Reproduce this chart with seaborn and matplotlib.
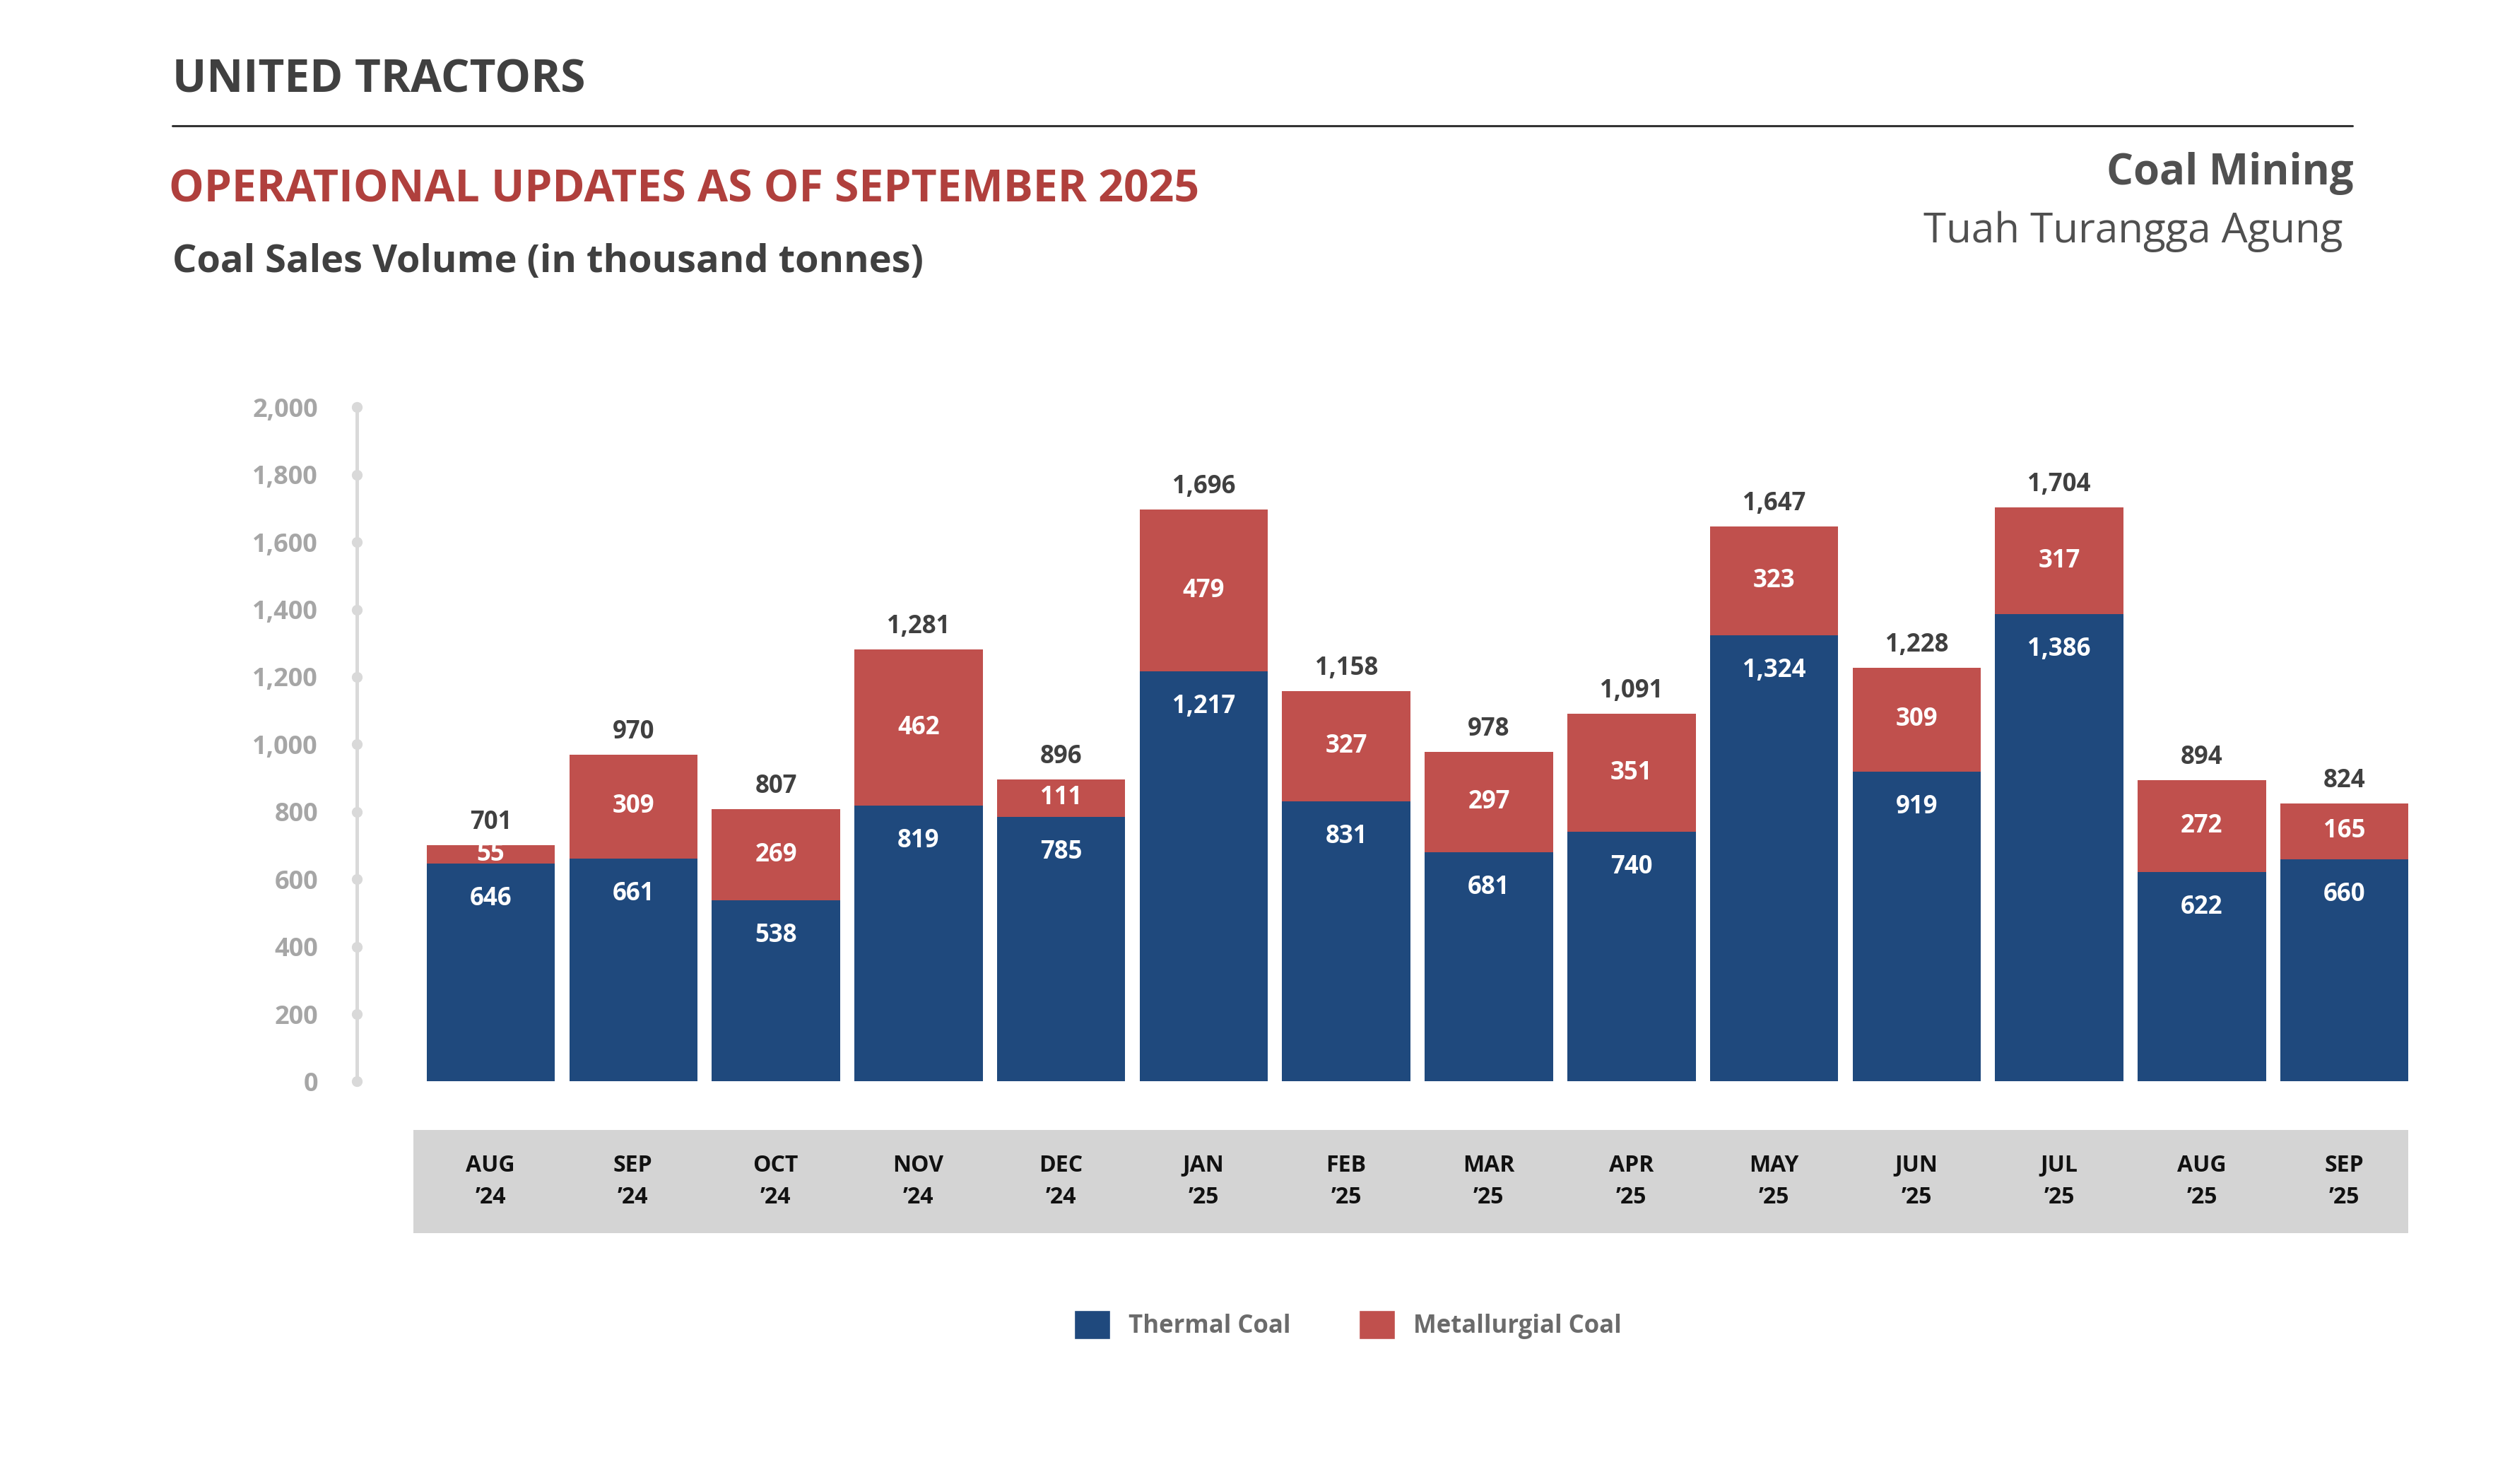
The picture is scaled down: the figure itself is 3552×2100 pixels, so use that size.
import matplotlib.pyplot as plt
import pandas as pd
import seaborn as sns
from matplotlib.patches import Patch

# Data (thousand tonnes)
months = ["AUG", "SEP", "OCT", "NOV", "DEC", "JAN", "FEB",
          "MAR", "APR", "MAY", "JUN", "JUL", "AUG", "SEP"]
years = ["\u201924"] * 5 + ["\u201925"] * 9
thermal = [646, 661, 538, 819, 785, 1217, 831, 681, 740, 1324, 919, 1386, 622, 660]
metallurgical = [55, 309, 269, 462, 111, 479, 327, 297, 351, 323, 309, 317, 272, 165]
totals = [701, 970, 807, 1281, 896, 1696, 1158, 978, 1091, 1647, 1228, 1704, 894, 824]
y_ticks = [0, 200, 400, 600, 800, 1000, 1200, 1400, 1600, 1800, 2000]

BLUE = "#1F497D"
RED = "#C0504D"
DARK = "#404040"
AXIS_GREY = "#D9D9D9"

sns.set_theme(style="white")
plt.rcParams["font.family"] = ["Open Sans", "DejaVu Sans"]

df = pd.DataFrame({
    "period": [m + " " + y for m, y in zip(months, years)],
    "thermal": thermal,
    "metallurgical": metallurgical,
})
df["stack"] = df["thermal"] + df["metallurgical"]

fig = plt.figure(figsize=(35.52, 21), dpi=100)
fig.patch.set_facecolor("white")

# main bar axes
x_left, x_right = -0.937, 13.45
ax = fig.add_axes([0.1423, 0.2712, 0.8173, 0.4544])
sns.barplot(data=df, x="period", y="stack", color=RED, width=0.9,
            saturation=1, linewidth=0, ax=ax)
sns.barplot(data=df, x="period", y="thermal", color=BLUE, width=0.9,
            saturation=1, linewidth=0, ax=ax)
ax.set_xlim(x_left, x_right)
ax.set_ylim(0, 2000)
ax.set_xlabel("")
ax.set_ylabel("")
ax.set_xticks([])
ax.set_yticks(y_ticks)
ax.set_yticklabels([f"{t:,}" for t in y_ticks], color="#A6A6A6",
                   fontsize=26, fontweight="bold")
ax.tick_params(axis="y", length=0, pad=40)
for side in ["top", "right", "bottom"]:
    ax.spines[side].set_visible(False)
ax.spines["left"].set_color(AXIS_GREY)
ax.spines["left"].set_linewidth(3.5)
ax.spines["left"].set_bounds(0, 2000)
ax.plot([x_left] * len(y_ticks), y_ticks, "o", color=AXIS_GREY,
        markersize=10, clip_on=False, zorder=5)

# value labels
for i in range(len(months)):
    ax.annotate(f"{totals[i]:,}", xy=(i, df["stack"][i]), xytext=(0, 23),
                textcoords="offset points", ha="center", va="center",
                fontsize=25, fontweight="bold", color=DARK)
    ax.annotate(f"{thermal[i]:,}", xy=(i, thermal[i]), xytext=(0, -36),
                textcoords="offset points", ha="center", va="center",
                fontsize=25, fontweight="bold", color="white")
    ax.annotate(f"{metallurgical[i]:,}",
                xy=(i, thermal[i] + metallurgical[i] / 2),
                ha="center", va="center",
                fontsize=25, fontweight="bold", color="white")

# grey month band
band = fig.add_axes([0.1647, 0.1692, 0.7949, 0.0694])
band.set_facecolor("#D4D4D4")
band.set_xlim(-0.54, 13.45)
band.set_ylim(0, 1)
band.set_xticks([])
band.set_yticks([])
for side in band.spines.values():
    side.set_visible(False)
for i, (m, y) in enumerate(zip(months, years)):
    band.text(i, 0.656, m, ha="center", va="center", fontsize=23,
              fontweight="bold", color="#111111")
    band.text(i, 0.344, y, ha="center", va="center", fontsize=23,
              fontweight="bold", color="#111111")

# legend
handles = [Patch(facecolor=BLUE, label="Thermal Coal"),
           Patch(facecolor=RED, label="Metallurgial Coal")]
leg = fig.legend(handles=handles, loc="center", bbox_to_anchor=(0.537, 0.1074),
                 ncol=2, frameon=False, fontsize=25, handlelength=1.45,
                 handleheight=1.45, handletextpad=0.75, columnspacing=2.8)
for t in leg.get_texts():
    t.set_color("#6B6B6B")
    t.set_fontweight("bold")

# header texts
fig.text(0.0686, 0.9458, "UNITED TRACTORS", ha="left", va="center",
         fontsize=46, fontweight="bold", color=DARK)
fig.add_artist(plt.Line2D([0.0686, 0.9372], [0.9154, 0.9154],
                          color="#333333", linewidth=2.2))
fig.text(0.0673, 0.872, "OPERATIONAL UPDATES AS OF SEPTEMBER 2025", ha="left",
         va="center", fontsize=45, fontweight="bold", color="#B0403D")
fig.text(0.0686, 0.8232, "Coal Sales Volume (in thousand tonnes)", ha="left",
         va="center", fontsize=39, fontweight="bold", color=DARK)
fig.text(0.9378, 0.8829, "Coal Mining", ha="right", va="center",
         fontsize=43, fontweight="bold", color="#505050")
fig.text(0.9333, 0.8438, "Tuah Turangga Agung", ha="right", va="center",
         fontsize=42, color="#505050")

fig.savefig("out.png", dpi=100, facecolor="white")
